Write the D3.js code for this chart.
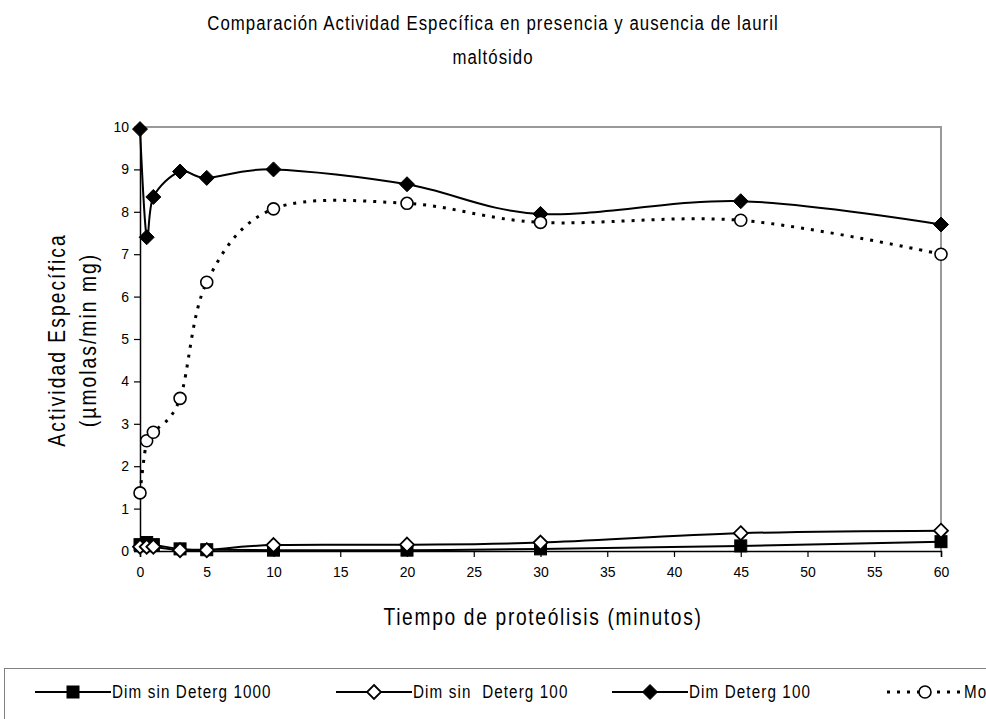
<!DOCTYPE html>
<html>
<head>
<meta charset="utf-8">
<script src="https://cdn.jsdelivr.net/npm/d3@7"></script>
<style>
  body { margin: 0; background: #fff; }
  svg { display: block; font-family: "Liberation Sans", Arial, sans-serif; }
</style>
</head>
<body>
<div id="chart"></div>
<script>
// datos
const tiempos = [0, 0.5, 1, 3, 5, 10, 20, 30, 45, 60];
const dimSinDeterg1000 = [0.15, 0.2, 0.15, 0.05, 0.03, 0.02, 0.02, 0.05, 0.12, 0.22];
const dimSinDeterg100 = [0.1, 0.1, 0.1, 0.02, 0.02, 0.14, 0.15, 0.2, 0.42, 0.48];
const dimDeterg100 = [9.95, 7.4, 8.35, 8.95, 8.8, 9.0, 8.65, 7.95, 8.25, 7.7];
const monDeterg100 = [1.37, 2.6, 2.8, 3.6, 6.34, 8.07, 8.2, 7.75, 7.8, 7.0];
const nombres = ["Dim sin Deterg 1000", "Dim sin  Deterg 100", "Dim Deterg 100", "Monómero Deterg 100"];
const xTicks = [0, 5, 10, 15, 20, 25, 30, 35, 40, 45, 50, 55, 60];
const yTicks = [0, 1, 2, 3, 4, 5, 6, 7, 8, 9, 10];

const series = [
  { nombre: nombres[0], valores: dimSinDeterg1000, marca: 'cuadrado', punteada: false },
  { nombre: nombres[1], valores: dimSinDeterg100, marca: 'rombo-abierto', punteada: false },
  { nombre: nombres[2], valores: dimDeterg100, marca: 'rombo', punteada: false },
  { nombre: nombres[3], valores: monDeterg100, marca: 'circulo', punteada: true }
];

const svgWidth = 986, svgHeight = 719;
const margin = { top: 127, right: 45, bottom: 168, left: 140 };
const width = svgWidth - margin.left - margin.right;
const height = svgHeight - margin.top - margin.bottom;

const svg = d3.select('#chart').append('svg')
  .attr('width', svgWidth)
  .attr('height', svgHeight);

// texto "angosto" como el de excel: fuente escalada en x y espaciada
function textoAngosto(px, py, size, spacing) {
  return svg.append('text')
    .attr('transform', `translate(${px},${py}) scale(0.8,1)`)
    .attr('text-anchor', 'middle')
    .style('font-size', size + 'px')
    .style('letter-spacing', spacing + 'px')
    .attr('fill', '#000');
}

// titulo
const titulo = textoAngosto(493, 0, 21, 1.3);
titulo.append('tspan').attr('x', 0).attr('y', 30)
  .text('Comparación Actividad Específica en presencia y ausencia de lauril');
titulo.append('tspan').attr('x', 0).attr('y', 64).text('maltósido');

const g = svg.append('g')
  .attr('transform', `translate(${margin.left},${margin.top})`);

const x = d3.scaleLinear().domain([0, 60]).range([0, width]);
const y = d3.scaleLinear().domain([0, 10]).range([height, 0]);

// borde gris arriba y a la derecha
g.append('path')
  .attr('d', `M0,0H${width}V${height}`)
  .attr('fill', 'none')
  .attr('stroke', '#999')
  .attr('stroke-width', 2);

const yAxis = g.append('g')
  .call(d3.axisLeft(y).tickValues(yTicks).tickSize(6).tickPadding(5).tickFormat(d3.format('d')));
const xAxis = g.append('g')
  .attr('transform', `translate(0,${height})`)
  .call(d3.axisBottom(x).tickValues(xTicks).tickSize(6).tickPadding(10).tickFormat(d3.format('d')));

[yAxis, xAxis].forEach(a => {
  a.select('.domain').attr('stroke', '#000').attr('stroke-width', 1.5);
  a.selectAll('.tick line').attr('stroke', '#000').attr('stroke-width', 1.2);
  a.selectAll('.tick text')
    .style('font-family', '"Liberation Sans", Arial, sans-serif')
    .style('font-size', '14px')
    .attr('fill', '#000');
});

// titulos de ejes
textoAngosto(543, 625, 24, 2.1)
  .attr('x', 0).attr('y', 0)
  .text('Tiempo de proteólisis (minutos)');

const yLab = svg.append('text')
  .attr('transform', 'translate(65,340) rotate(-90) scale(0.8,1)')
  .attr('text-anchor', 'middle')
  .style('font-size', '24px')
  .style('letter-spacing', '2.6px');
yLab.append('tspan').attr('x', 0).attr('y', 0).text('Actividad Específica');
yLab.append('tspan').attr('x', 0).attr('y', 31).text('(µmolas/min mg)');

const linea = d3.line()
  .x((d, i) => x(tiempos[i]))
  .y(d => y(d))
  .curve(d3.curveCardinal.tension(0));

function dibujarMarca(sel, tipo) {
  if (tipo === 'cuadrado') {
    sel.append('rect').attr('x', -6).attr('y', -6).attr('width', 12).attr('height', 12)
      .attr('fill', '#000').attr('stroke', '#000');
  } else if (tipo === 'rombo-abierto') {
    sel.append('path').attr('d', 'M0,-7L7,0L0,7L-7,0Z')
      .attr('fill', '#fff').attr('stroke', '#000').attr('stroke-width', 1.8);
  } else if (tipo === 'rombo') {
    sel.append('path').attr('d', 'M0,-7.5L7.5,0L0,7.5L-7.5,0Z')
      .attr('fill', '#000').attr('stroke', '#000');
  } else {
    sel.append('circle').attr('r', 6)
      .attr('fill', '#fff').attr('stroke', '#000').attr('stroke-width', 1.6);
  }
}

series.forEach(s => {
  g.append('path')
    .datum(s.valores)
    .attr('d', linea)
    .attr('fill', 'none')
    .attr('stroke', '#000')
    .attr('stroke-width', s.punteada ? 3 : 2)
    .attr('stroke-dasharray', s.punteada ? '3,7' : null);

  g.selectAll(null)
    .data(s.valores)
    .enter().append('g')
    .attr('transform', (d, i) => `translate(${x(tiempos[i])},${y(d)})`)
    .each(function () { dibujarMarca(d3.select(this), s.marca); });
});

// leyenda
svg.append('rect')
  .attr('x', 4.5).attr('y', 668.5)
  .attr('width', 1100).attr('height', 100)
  .attr('fill', '#fff').attr('stroke', '#808080');

const legX = [35, 336, 612, 887];
series.forEach((s, i) => {
  const lg = svg.append('g').attr('transform', `translate(${legX[i]},692)`);
  lg.append('line').attr('x1', 0).attr('x2', 76)
    .attr('stroke', '#000')
    .attr('stroke-width', s.punteada ? 3 : 2)
    .attr('stroke-dasharray', s.punteada ? '3,7' : null);
  lg.append('g').attr('transform', 'translate(38,0)')
    .call(sel => dibujarMarca(sel, s.marca));
  lg.append('text')
    .attr('transform', 'translate(77,6) scale(0.8,1)')
    .style('font-size', '19px')
    .style('letter-spacing', '1.4px')
    .style('white-space', 'pre')
    .text(s.nombre);
});
</script>
</body>
</html>
